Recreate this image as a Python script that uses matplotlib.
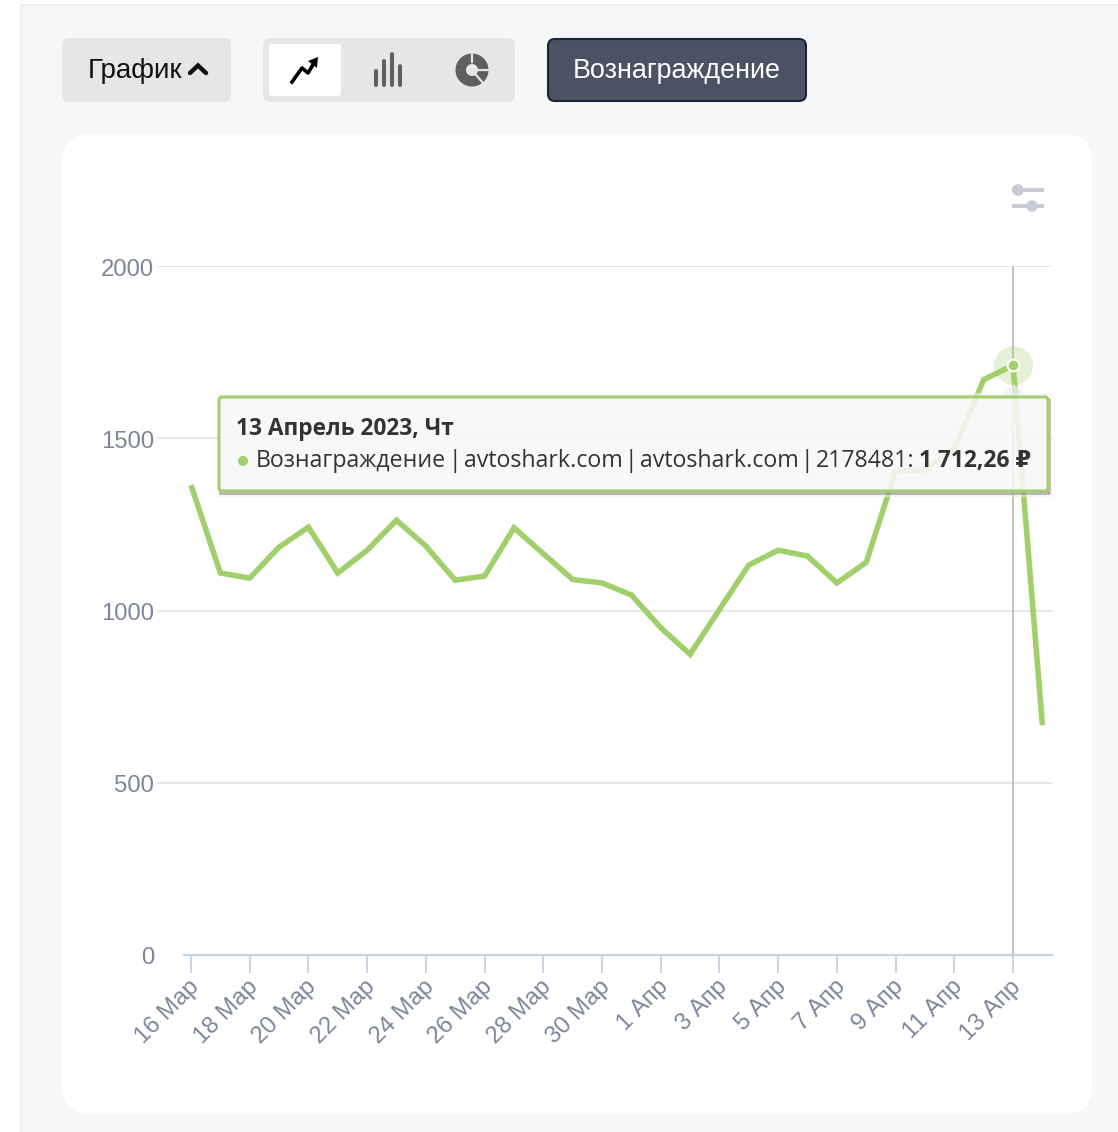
"""
Reward line chart (screenshot of a stats panel) with toolbar and tooltip
"""
import matplotlib
matplotlib.use('Agg')
import matplotlib.pyplot as plt
from matplotlib.patches import FancyBboxPatch, Rectangle, Circle, Polygon
from matplotlib.transforms import ScaledTranslation

W, H = 1118, 1132
SANS = ['Liberation Sans', 'DejaVu Sans']
TIP = ['Open Sans', 'DejaVu Sans']

# one label per day, 16 Mar .. 14 Apr
days = ['16 Мар', '17 Мар', '18 Мар', '19 Мар', '20 Мар', '21 Мар', '22 Мар', '23 Мар',
        '24 Мар', '25 Мар', '26 Мар', '27 Мар', '28 Мар', '29 Мар', '30 Мар', '31 Мар',
        '1 Апр', '2 Апр', '3 Апр', '4 Апр', '5 Апр', '6 Апр', '7 Апр', '8 Апр',
        '9 Апр', '10 Апр', '11 Апр', '12 Апр', '13 Апр', '14 Апр']
reward = [1364, 1109, 1094, 1184, 1242, 1109, 1175, 1262,
          1187, 1088, 1100, 1240, 1165, 1090, 1080, 1045,
          950, 873, 1003, 1132, 1175, 1158, 1080, 1140,
          1405, 1408, 1470, 1670, 1712.26, 667]
y_ticks = [0, 500, 1000, 1500, 2000]
hover_day = '13 Апр'

C = {'bg': '#F6F7F9', 'btn': '#E6E6E6', 'dark': '#4B5263', 'dark_edge': '#1B2438',
     'line': '#A0CF6C', 'grid': '#E4E6EB', 'axis': '#C9D3E6', 'tick': '#7D8599',
     'cross': '#BDBDBD', 'icon': '#5F5F5F', 'slider': '#C8CBD5',
     'tip': '#F8F8F8', 'tip_text': '#333333'}

fig = plt.figure(figsize=(W / 100, H / 100), dpi=100, facecolor='white')


def px_axes(zorder):
    a = fig.add_axes([0, 0, 1, 1], zorder=zorder)
    a.set_xlim(0, W)
    a.set_ylim(H, 0)
    a.axis('off')
    a.patch.set_alpha(0)
    return a


def rbox(a, x0, y0, x1, y1, r, fc, ec='none', lw=0, alpha=None, z=2):
    a.add_patch(FancyBboxPatch((x0, y0), x1 - x0, y1 - y0,
                               boxstyle=f'round,pad=0,rounding_size={r}',
                               facecolor=fc, edgecolor=ec, linewidth=lw, alpha=alpha, zorder=z))


# ---- page chrome ----
bg = px_axes(0)
bg.add_patch(Rectangle((20, 4), W - 20, H - 4, facecolor=C['bg'], edgecolor='none'))
bg.add_patch(Rectangle((20, 4), 2, H - 4, facecolor='#EFF0F3', edgecolor='none'))
bg.add_patch(Rectangle((20, 4), W - 20, 2, facecolor='#EFF0F3', edgecolor='none'))
rbox(bg, 62, 134, 1092, 1114, 28, 'white')

rbox(bg, 62, 38, 231, 102, 7, C['btn'])
bg.text(88, 71.5, 'График', family=SANS, fontsize=20, color='#111111', ha='left', va='center')
bg.plot([190, 198, 206], [73, 65.5, 73], color='#111111', lw=3.2, solid_capstyle='round', solid_joinstyle='miter')

rbox(bg, 263, 38, 515, 102, 7, C['btn'])
rbox(bg, 269, 44, 341, 96, 3, 'white', z=3)
# line icon
bg.plot([292, 302, 308, 314], [82, 68, 73, 63], color='black', lw=2.6, zorder=4)
bg.add_patch(Polygon([[318, 57], [308, 61], [317, 68]], facecolor='black', zorder=4))
# bars icon
for bx, top in zip([376, 384, 392, 400], [71, 61, 54, 66]):
    bg.plot([bx, bx], [top, 85], color=C['icon'], lw=2.9, solid_capstyle='round', zorder=4)
# pie icon
bg.add_patch(Circle((472, 70), 16.5, facecolor=C['icon'], edgecolor='none', zorder=4))
bg.add_patch(Circle((472, 70), 6, facecolor=C['btn'], edgecolor='none', zorder=5))
bg.plot([472, 472], [52, 62], color=C['btn'], lw=1.6, zorder=5)
bg.plot([478, 490], [70, 70], color=C['btn'], lw=1.6, zorder=5)
bg.plot([476, 484], [75, 84], color=C['btn'], lw=1.6, zorder=5)

rbox(bg, 548, 39, 806, 101, 7, C['dark'], C['dark_edge'], 1.5)
bg.text(677, 71.5, 'Вознаграждение', family=SANS, fontsize=19.4, color='white', ha='center', va='center')

# settings sliders
bg.plot([1012, 1044], [190, 190], color=C['slider'], lw=2.8, solid_capstyle='butt')
bg.plot([1012, 1044], [206, 206], color=C['slider'], lw=2.8, solid_capstyle='butt')
bg.add_patch(Circle((1018, 190), 5.8, facecolor=C['slider'], edgecolor='none', zorder=3))
bg.add_patch(Circle((1032, 206), 5.8, facecolor=C['slider'], edgecolor='none', zorder=3))

# ---- chart ----
LEFT, RIGHT, TOP, BOTTOM = 157, 1052, 266, 955
X0, STEP = 191, 29.36
ax = fig.add_axes([LEFT / W, 1 - BOTTOM / H, (RIGHT - LEFT) / W, (BOTTOM - TOP) / H], zorder=1)
ax.patch.set_alpha(0)
xs = list(range(len(days)))
ax.set_xlim((LEFT - X0) / STEP, (RIGHT - X0) / STEP)
ax.set_ylim(0, 2000)
for s in ax.spines.values():
    s.set_visible(False)

ax.set_yticks(y_ticks)
ax.set_yticklabels([str(v) for v in y_ticks], family=SANS, fontsize=17.2, color=C['tick'])
ax.tick_params(axis='y', length=0, pad=2)
for lab in ax.get_yticklabels():
    lab.set_transform(lab.get_transform() + ScaledTranslation(0, -1 / 100, fig.dpi_scale_trans))
ax.grid(axis='y', color=C['grid'], lw=1.4)
ax.yaxis.get_gridlines()[0].set_visible(False)
ax.set_axisbelow(True)
ax.axhline(0, xmin=(184 - LEFT) / (RIGHT - LEFT), color=C['axis'], lw=1.6, clip_on=False, zorder=1)

ax.set_xticks(xs[::2])
ax.set_xticklabels(days[::2], family=SANS, fontsize=17.2, color=C['tick'], rotation=45,
                   ha='right', va='top', rotation_mode='anchor')
ax.tick_params(axis='x', length=13, width=1.4, color=C['axis'], pad=2)
for lab in ax.get_xticklabels():
    lab.set_transform(lab.get_transform() + ScaledTranslation(-3 / 100, 0, fig.dpi_scale_trans))

hover = days.index(hover_day)
ax.axvline(hover, color=C['cross'], lw=1.3, zorder=2)
ax.plot(xs, reward, color=C['line'], lw=4, solid_joinstyle='miter', solid_capstyle='butt',
        clip_on=False, zorder=3)
ax.plot([hover], [reward[hover]], 'o', ms=28, mfc=C['line'], mec='none', alpha=0.28, clip_on=False, zorder=4)
ax.plot([hover], [reward[hover]], 'o', ms=8.5, mfc=C['line'], mec='white', mew=1.6, clip_on=False, zorder=5)

# ---- tooltip ----
tip = px_axes(5)
tip.add_patch(Polygon([[1000, 397], [1014, 384], [1028, 397]], facecolor='#EDEDED', alpha=0.75,
                      edgecolor='none', zorder=1))
# shadow only around the box, so the body stays light
tip.add_patch(Rectangle((219, 491), 831, 3.5, facecolor='#9A9A9A', alpha=0.7, edgecolor='none', zorder=1))
tip.add_patch(Rectangle((1048, 399), 2.5, 95, facecolor='#AAAAAA', alpha=0.7, edgecolor='none', zorder=1))
tip.add_patch(Rectangle((216, 494.5), 837, 2.5, facecolor='#F0F0F0', alpha=0.6, edgecolor='none', zorder=1))
tip.add_patch(Rectangle((216, 393), 837, 3, facecolor='#F0F0F0', alpha=0.6, edgecolor='none', zorder=1))
rbox(tip, 219, 397, 1048, 491, 3, C['tip'], 'none', 0, alpha=0.88, z=2)
rbox(tip, 219, 397, 1048, 491, 3, 'none', C['line'], 2.2, z=2)
tip.text(236, 429, '13 Апрель 2023, Чт', family=TIP, fontsize=16.3, fontweight='bold',
         color=C['tip_text'], ha='left', va='center', zorder=3)
tip.add_patch(Circle((243, 461), 5, facecolor=C['line'], edgecolor='none', zorder=3))
# separators are tighter than the font's own spaces, so the pieces go one by one
for x, s in [(256, 'Вознаграждение'), (449, '|'), (464, 'avtoshark.com'), (625, '|'),
             (640, 'avtoshark.com'), (801, '|'), (816, '2178481:')]:
    tip.text(x, 461, s, family=TIP, fontsize=16.7, color=C['tip_text'], ha='left', va='center', zorder=3)
tip.text(1031, 461, '1 712,26 ₽', family=TIP, fontsize=16.4, fontweight='bold',
         color=C['tip_text'], ha='right', va='center', zorder=3)

fig.savefig('out.png', dpi=100, facecolor='white')
plt.close()
